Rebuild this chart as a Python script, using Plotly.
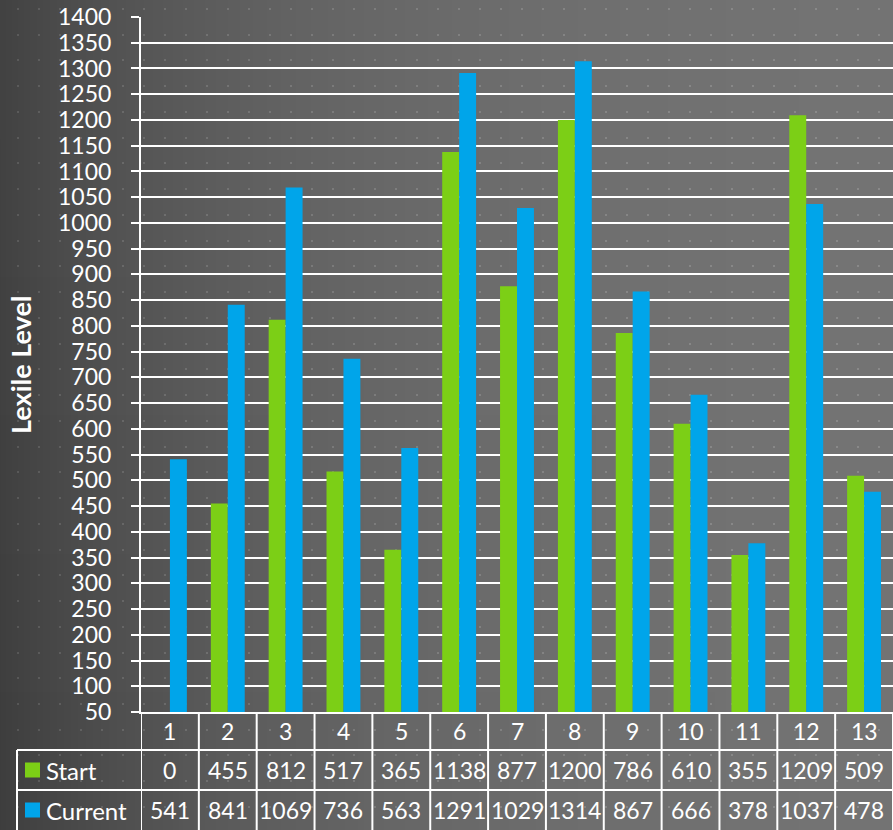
import base64, struct, zlib, math
import plotly.graph_objects as go

# ---- data ----
students = [1, 2, 3, 4, 5, 6, 7, 8, 9, 10, 11, 12, 13]
start = [0, 455, 812, 517, 365, 1138, 877, 1200, 786, 610, 355, 1209, 509]
current = [541, 841, 1069, 736, 563, 1291, 1029, 1314, 867, 666, 378, 1037, 478]
y_ticks = list(range(50, 1401, 50))
series_names = ["Start", "Current"]
series_colors = ["#7ccf16", "#00a5ea"]

W, H = 893, 830
L, R, T, B = 141, 0, 17, 118
PW, PH = W - L - R, H - T - B

# ---- background image (gradient + dot pattern) ----
def make_bg():
    rows = []
    denom = 1 - math.exp(-W / 300)
    base = [int(66 + 50 * (1 - math.exp(-x / 300)) / denom) for x in range(W)]
    dot_cols = set()
    for x0 in range(17 % 21, W, 21):
        dot_cols.add(x0); dot_cols.add(x0 + 1)
    dot_rows = set()
    k = 0
    while True:
        yy = int(round(8 + 25.74 * k))
        if yy >= H:
            break
        dot_rows.add(yy); dot_rows.add(yy + 1)
        k += 1
    for y in range(H):
        vig = int(6 * (y / H))
        row = bytearray([0])
        for x in range(W):
            v = base[x] - int(vig * (1 - x / W))
            if y in dot_rows and x in dot_cols:
                v = min(255, v + 22)
            row += bytes((v, v, v))
        rows.append(bytes(row))
    raw = b"".join(rows)
    def chunk(t, d):
        c = struct.pack(">I", len(d)) + t + d
        return c + struct.pack(">I", zlib.crc32(t + d) & 0xffffffff)
    png = b"\x89PNG\r\n\x1a\n" + chunk(b"IHDR", struct.pack(">IIBBBBB", W, H, 8, 2, 0, 0, 0)) \
        + chunk(b"IDAT", zlib.compress(raw, 9)) + chunk(b"IEND", b"")
    return "data:image/png;base64," + base64.b64encode(png).decode()

FONT = "Lato, 'Open Sans', sans-serif"
TS = 23  # table font size

fig = go.Figure()
for name, vals, col in zip(series_names, [start, current], series_colors):
    fig.add_trace(go.Bar(x=students, y=vals, name=name, marker=dict(color=col, line=dict(width=0))))

def py(pix):  # pixel y -> paper y
    return (H - B - pix) / PH

def px(pix):  # pixel x -> paper x
    return (pix - L) / PW

shapes = []
annotations = []
line = dict(color="white", width=2)

# table grid
y_top, y_r1, y_r2, y_bot = 712, 750, 790, 830
for i in range(len(students) + 1):
    xv = students[0] - 0.5 + i
    shapes.append(dict(type="line", xref="x", yref="paper", x0=xv, x1=xv,
                       y0=py(y_top), y1=py(y_bot), line=line))
for yy in (y_r1, y_r2):
    shapes.append(dict(type="line", xref="paper", yref="paper", x0=px(17), x1=1,
                       y0=py(yy), y1=py(yy), line=line))
shapes.append(dict(type="line", xref="paper", yref="paper", x0=px(17), x1=px(17),
                   y0=py(y_r1), y1=py(y_bot), line=line))

# header and values
for s, a, b in zip(students, start, current):
    for txt, yc in ((s, 731), (a, 770), (b, 810)):
        annotations.append(dict(x=s, y=py(yc), xref="x", yref="paper", text=str(txt),
                                showarrow=False, xanchor="center", yanchor="middle",
                                font=dict(color="white", size=TS, family=FONT)))

# row labels with legend keys
for name, col, yc in zip(series_names, series_colors, (770, 810)):
    shapes.append(dict(type="rect", xref="paper", yref="paper", x0=px(25), x1=px(40),
                       y0=py(yc + 7.5), y1=py(yc - 7.5), fillcolor=col, line=dict(width=0)))
    annotations.append(dict(x=px(44), y=py(yc), xref="paper", yref="paper", text=name,
                            showarrow=False, xanchor="left", yanchor="middle",
                            font=dict(color="white", size=TS + 1, family=FONT)))

# y-axis title
annotations.append(dict(x=px(21), y=py(365), xref="paper", yref="paper", text="<b>Lexile Level</b>",
                        textangle=-90, showarrow=False, xanchor="center", yanchor="middle",
                        font=dict(color="white", size=27, family=FONT)))

fig.update_layout(
    width=W, height=H,
    margin=dict(l=L, r=R, t=T, b=B, pad=0),
    paper_bgcolor="#5a5a5a", plot_bgcolor="rgba(0,0,0,0)",
    barmode="group", bargap=0.414, bargroupgap=0,
    showlegend=False,
    font=dict(family=FONT, color="white"),
    images=[dict(source=make_bg(), xref="paper", yref="paper", x=-L / PW, y=1 + T / PH,
                 sizex=W / PW, sizey=H / PH, xanchor="left", yanchor="top",
                 sizing="stretch", layer="below")],
    shapes=shapes, annotations=annotations,
)
fig.update_xaxes(range=[students[0] - 0.5, students[-1] + 0.5], showticklabels=False,
                 showgrid=False, zeroline=False, showline=True, linecolor="white", linewidth=2,
                 ticks="")
fig.update_yaxes(range=[y_ticks[0], y_ticks[-1]], tickvals=y_ticks,
                 ticktext=[str(v) for v in y_ticks],
                 showgrid=True, gridcolor="white", gridwidth=2, zeroline=False,
                 showline=True, linecolor="white", linewidth=2,
                 ticks="outside", ticklen=8, tickwidth=2, tickcolor="white",
                 ticklabelstandoff=15,
                 tickfont=dict(color="white", size=23, family=FONT))

fig.write_html("out.html", config={"displayModeBar": False})

# remove default page margin so the figure sits at the window's top-left corner
with open("out.html", "r", encoding="utf-8") as f:
    html = f.read()
html = html.replace("<body>", '<body style="margin:0;padding:0;overflow:hidden">', 1)
with open("out.html", "w", encoding="utf-8") as f:
    f.write(html)
